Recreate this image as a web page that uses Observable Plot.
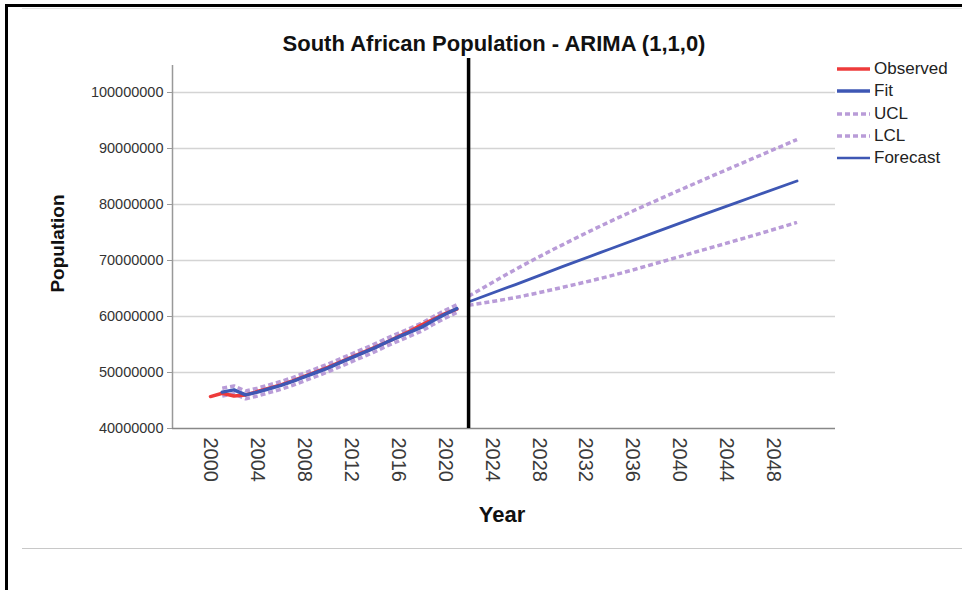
<!DOCTYPE html>
<html>
<head>
<meta charset="utf-8">
<script src="https://cdn.jsdelivr.net/npm/d3@7"></script>
<script src="https://cdn.jsdelivr.net/npm/@observablehq/plot@0.6"></script>
<style>
  html, body { margin: 0; padding: 0; background: #fff; }
  #page { position: relative; width: 962px; height: 590px; overflow: hidden; font-family: "Liberation Sans", Arial, sans-serif; }
  #page > svg { position: absolute; left: 0; top: 0; }
  .border-top { position: absolute; left: 5px; top: 4px; width: 957px; height: 3px; background: #000; }
  .border-left { position: absolute; left: 5px; top: 4px; width: 3px; height: 586px; background: #000; }
  .rule-top { position: absolute; left: 22px; top: 8px; width: 940px; height: 1px; background: #e2e2e2; }
  .rule-bottom { position: absolute; left: 22px; top: 548px; width: 940px; height: 1px; background: #c8c8c8; }
  #legend { position: absolute; left: 837px; top: 58px; width: 125px; height: 115px; }
  .item { position: absolute; left: 0; height: 22px; display: flex; align-items: center; white-space: nowrap; font-size: 17px; color: #222; }
  .item svg { display: block; margin-right: 4px; }
</style>
</head>
<body>
<div id="page">
  <div class="border-top"></div>
  <div class="border-left"></div>
  <div class="rule-top"></div>
  <div class="rule-bottom"></div>
  <div id="legend"></div>
</div>
<script>
// Observed annual population
const observedYears = [2000, 2001, 2002, 2003, 2004, 2005, 2006, 2007, 2008, 2009, 2010,
                       2011, 2012, 2013, 2014, 2015, 2016, 2017, 2018, 2019, 2020, 2021];
const observed = [45700000, 46300000, 45800000, 46000000, 46600000, 47200000, 47800000, 48500000,
                  49300000, 50100000, 50900000, 51800000, 52700000, 53600000, 54500000, 55400000,
                  56400000, 57400000, 58500000, 59500000, 60500000, 61300000];

// ARIMA(1,1,0) fitted values with their confidence limits
const fitYears = [2001, 2002, 2003, 2004, 2005, 2006, 2007, 2008, 2009, 2010, 2011,
                  2012, 2013, 2014, 2015, 2016, 2017, 2018, 2019, 2020, 2021];
const fitted = [46500000, 46900000, 46000000, 46500000, 47100000, 47700000, 48400000, 49200000,
                50000000, 50800000, 51700000, 52600000, 53500000, 54400000, 55400000, 56300000,
                57200000, 58100000, 59300000, 60400000, 61400000];
const fitUCL = [47200000, 47600000, 46700000, 47200000, 47800000, 48400000, 49100000, 49900000,
                50700000, 51500000, 52400000, 53300000, 54200000, 55100000, 56100000, 57000000,
                57900000, 58800000, 60000000, 61100000, 62100000];
const fitLCL = [45800000, 46200000, 45300000, 45800000, 46400000, 47000000, 47700000, 48500000,
                49300000, 50100000, 51000000, 51900000, 52800000, 53700000, 54700000, 55600000,
                56500000, 57400000, 58600000, 59700000, 60700000];

// Forecast horizon with confidence limits
const forecastYears = [2022, 2026, 2030, 2034, 2038, 2042, 2046, 2050];
const forecast = [62600000, 65700000, 68900000, 72000000, 75100000, 78200000, 81200000, 84200000];
const forecastUCL = [63600000, 68400000, 72800000, 76900000, 80700000, 84400000, 88000000, 91600000];
const forecastLCL = [62000000, 63400000, 65200000, 67200000, 69500000, 71900000, 74300000, 76800000];

// Axes
const xTicks = [2000, 2004, 2008, 2012, 2016, 2020, 2024, 2028, 2032, 2036, 2040, 2044, 2048];
const yTicks = [40000000, 50000000, 60000000, 70000000, 80000000, 90000000, 100000000];
const xDomain = [1996.76, 2053.28];
const yDomain = [40000000, 106070000];
const yAxisTop = 104800000;
const forecastStart = 2022;

const chartTitle = "South African Population - ARIMA (1,1,0)";
const xTitle = "Year";
const yTitle = "Population";

const dash = "5,3";
const legendItems = [
  {label: "Observed", color: "#ee3b3b", width: 3.5, dash: null},
  {label: "Fit", color: "#3e57b4", width: 3.5, dash: null},
  {label: "UCL", color: "#b99cd8", width: 3.5, dash},
  {label: "LCL", color: "#b99cd8", width: 3.5, dash},
  {label: "Forecast", color: "#3e57b4", width: 2.5, dash: null}
];

const obsData = observedYears.map((year, i) => ({year, value: observed[i]}));
const fitData = fitYears.map((year, i) => ({year, fit: fitted[i], ucl: fitUCL[i], lcl: fitLCL[i]}));
const fcData = forecastYears.map((year, i) => ({year, fc: forecast[i], ucl: forecastUCL[i], lcl: forecastLCL[i]}));

const dotted = {stroke: "#b99cd8", strokeWidth: 3.5, strokeDasharray: dash, strokeLinecap: "butt"};
const font = "'Liberation Sans', Arial, sans-serif";

const chart = Plot.plot({
  width: 962,
  height: 590,
  marginLeft: 172,
  marginRight: 127,
  marginTop: 58,
  marginBottom: 162,
  style: {fontFamily: font, background: "transparent", overflow: "visible"},
  x: {domain: xDomain},
  y: {domain: yDomain},
  marks: [
    Plot.gridY(yTicks.slice(1), {stroke: "#d4d4d4", strokeOpacity: 1, strokeWidth: 1.5}),
    Plot.axisY(yTicks, {tickSize: 5, tickPadding: 4, fontSize: 14.5, stroke: "#999", fill: "#333",
                        tickFormat: d => d3.format("d")(d), label: null}),
    Plot.ruleX([xDomain[0]], {y1: yDomain[0], y2: yAxisTop, stroke: "#999", strokeWidth: 1.5}),
    Plot.axisX(xTicks, {tickSize: 0, tickPadding: 9, tickRotate: 90, fontSize: 20, fill: "#3a3a3a",
                        tickFormat: d => String(d), label: null}),
    Plot.ruleY([yDomain[0]], {stroke: "#888", strokeWidth: 1.5}),

    // fitted period
    Plot.line(fitData, {x: "year", y: "ucl", ...dotted}),
    Plot.line(fitData, {x: "year", y: "lcl", ...dotted}),
    Plot.line(obsData, {x: "year", y: "value", stroke: "#ee3b3b", strokeWidth: 3.5}),
    Plot.line(fitData, {x: "year", y: "fit", stroke: "#3e57b4", strokeWidth: 3.5}),

    // forecast period
    Plot.line(fcData, {x: "year", y: "ucl", curve: "natural", ...dotted}),
    Plot.line(fcData, {x: "year", y: "lcl", curve: "natural", ...dotted}),
    Plot.line(fcData, {x: "year", y: "fc", curve: "natural", stroke: "#3e57b4", strokeWidth: 2.8}),

    // start of the forecast
    Plot.ruleX([forecastStart], {stroke: "#000", strokeWidth: 3.5}),

    // titles
    Plot.text([chartTitle], {frameAnchor: "top", lineAnchor: "middle", dy: -15, dx: -10,
                             fontSize: 22, fontWeight: "bold", fill: "#111"}),
    Plot.text([yTitle], {frameAnchor: "left", textAnchor: "middle", lineAnchor: "middle", rotate: -90, dx: -115,
                         fontSize: 19, fontWeight: "bold", fill: "#111"}),
    Plot.text([xTitle], {frameAnchor: "bottom", lineAnchor: "middle", dy: 86, dx: -2,
                         fontSize: 22, fontWeight: "bold", fill: "#111"})
  ]
});

const page = document.getElementById("page");
page.insertBefore(chart, page.firstChild);

// legend
const legend = document.getElementById("legend");
legendItems.forEach((d, i) => {
  const row = document.createElement("div");
  row.className = "item";
  row.style.top = (i * 22.3) + "px";
  row.innerHTML =
    `<svg width="33" height="6"><line x1="0" x2="33" y1="3" y2="3" stroke="${d.color}" stroke-width="${d.width}"` +
    (d.dash ? ` stroke-dasharray="${d.dash}"` : "") + `></line></svg><span>${d.label}</span>`;
  legend.appendChild(row);
});
</script>
</body>
</html>
